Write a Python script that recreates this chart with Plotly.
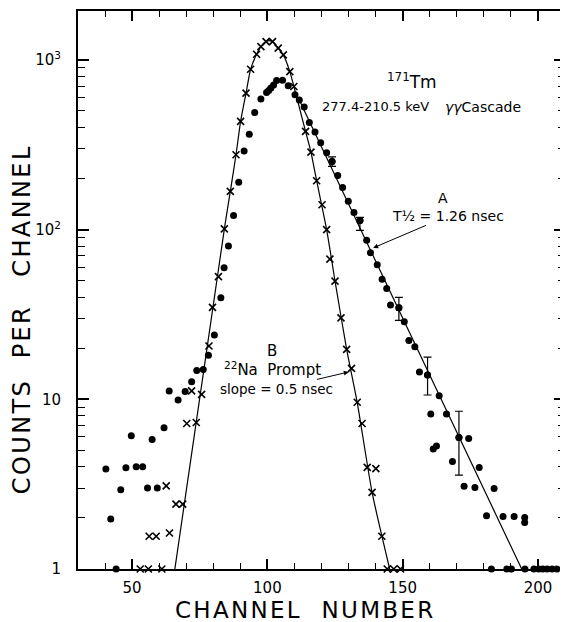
import math
import plotly.graph_objects as go

# ---- data ----
# Series A: 171Tm 277.4-210.5 keV gamma-gamma cascade (dots)
a_channel = [40.3, 42.1, 44.1, 45.8, 47.7, 49.7, 51.5, 53.9, 55.7, 57.4, 59.3, 61.8, 63.7, 67.0,
             69.6, 72.0, 73.9, 76.3, 78.2, 80.4, 82.8, 84.0, 85.6, 87.5, 89.4, 91.4, 93.3, 95.3,
             97.6, 99.7, 100.5, 101.3, 102.3, 103.4, 105.6, 107.7, 110.2, 111.8, 113.6, 115.5,
             117.6, 119.7, 121.9, 123.9, 126.0, 127.8, 129.9, 132.0, 134.2, 136.7, 138.1, 140.6,
             142.4, 144.1, 145.5, 148.6, 150.6, 152.3, 154.5, 156.2, 159.2, 160.4, 161.3, 162.5,
             163.5, 166.2, 168.4, 170.8, 172.7, 174.4, 176.7, 178.3, 181.0, 183.8, 187.1, 191.2,
             195.1, 195.1, 182.8, 188.5, 190.2, 195.2, 198.5, 200.3, 201.8, 203.4, 205.2, 207.0]
a_counts = [3.88, 1.97, 1.0, 2.93, 3.95, 6.1, 4.0, 4.0, 3.0, 5.8, 3.0, 6.8, 11.2, 9.9,
            11.1, 12.7, 14.8, 15.0, 18.2, 23.9, 39.7, 59.5, 80, 121, 190, 290, 365, 490,
            588, 643, 660, 682, 710, 756, 759, 703, 622, 580, 527, 428,
            376, 325, 284, 252, 208, 177, 147, 126, 113, 86.5, 73, 62,
            51, 45, 36, 34.6, 28.6, 22.2, 20.4, 14.5, 13.9, 8.2, 5.1, 5.3,
            10.5, 8.2, 4.3, 5.95, 3.07, 5.87, 3.02, 3.97, 2.06, 2.98, 2.04, 2.04,
            2.01, 1.88, 1, 1, 1, 1, 1, 1, 1, 1, 1, 1]

# error bars on series A
err_channel = [123.9, 134.2, 148.6, 159.2, 170.8]
err_counts = [252, 113, 34.6, 13.9, 5.95]
err_upper = [268, 118, 39.9, 17.7, 8.5]
err_lower = [236, 99, 29.2, 10.6, 3.57]

# Series B: 22Na prompt (crosses)
b_channel = [53.0, 56.0, 61.0, 56.3, 58.9, 62.6, 63.8, 66.2, 68.7, 70.2, 72.0, 73.7, 75.7,
             78.4, 79.7, 81.9, 84.1, 86.3, 88.4, 90.1, 92.1, 93.8, 96.0, 97.6, 99.5, 101.9,
             104.0, 105.9, 108.3, 109.8, 114.1, 116.1, 118.2, 120.2, 121.9, 123.1, 125.0,
             127.2, 129.3, 131.1, 133.2, 135.0, 136.9, 138.7, 140.1, 142.3, 144.3, 146.7, 149.2]
b_counts = [1, 1, 1, 1.56, 1.56, 3.09, 1.63, 2.41, 2.41, 7.2, 11.2, 7.3, 10.7,
            20.6, 34.8, 52.8, 101, 168, 276, 434, 637, 881, 1079, 1197, 1282, 1282,
            1172, 1070, 853, 697, 379, 286, 194, 140, 100, 67, 49.7,
            30.2, 19.7, 15.2, 9.6, 7.2, 3.97, 2.83, 3.9, 1.56, 1, 1, 1]

# fitted curves
fitB_channel = [65.8, 84.1, 86.3, 88.4, 90.1, 92.1, 93.8, 96.0, 97.6, 99.5, 100.7, 101.9,
                104.0, 105.9, 108.3, 109.8, 114.1, 116.1, 118.2, 121.9, 125.0, 129.3,
                133.2, 138.7, 145.2]
fitB_counts = [1, 101, 168, 276, 434, 637, 881, 1079, 1197, 1282, 1300, 1282,
               1172, 1070, 853, 697, 379, 286, 194, 100, 49.7, 19.7, 9.6, 2.83, 1]
fitA_channel = [112.0, 194.0]
fitA_counts = [570, 1]

x_ticks = [50, 100, 150, 200]
x_minor = [30, 40, 60, 70, 80, 90, 110, 120, 130, 140, 160, 170, 180, 190, 210]
y_tickvals = [1, 10, 100, 1000]
y_ticktext = ["1", "10", "10<sup>2</sup>", "10<sup>3</sup>"]
y_minor = [k * 10 ** d for d in range(4) for k in range(2, 10) if k * 10 ** d < 1950]

# ---- layout geometry (page is drawn with an 8px body margin) ----
OFF = 8
W, H = 568 - OFF, 622 - OFF
L, R, T, B = 78 - OFF, 1, 11 - OFF, 53
PW, PH = W - L - R, H - T - B


def px(x):
    return (x - OFF - L) / PW


def py(y):
    return (H - B - (y - OFF)) / PH


FONT = "DejaVu Sans"
HS = "\u200a"  # hair space for letter spacing


def spaced(word):
    return HS.join(word)


fig = go.Figure()

fig.add_trace(go.Scatter(x=fitB_channel, y=fitB_counts, mode="lines",
                         line=dict(color="black", width=1.2, shape="spline", smoothing=0.6),
                         hoverinfo="skip", showlegend=False))
fig.add_trace(go.Scatter(x=fitA_channel, y=fitA_counts, mode="lines",
                         line=dict(color="black", width=1.2),
                         hoverinfo="skip", showlegend=False))
fig.add_trace(go.Scatter(x=a_channel, y=a_counts, mode="markers", cliponaxis=False,
                         marker=dict(symbol="circle", size=7, color="black"),
                         name="A", showlegend=False))
fig.add_trace(go.Scatter(x=err_channel, y=err_counts, mode="markers", cliponaxis=False,
                         marker=dict(symbol="circle", size=7, color="black"),
                         error_y=dict(type="data", symmetric=False,
                                      array=[u - c for u, c in zip(err_upper, err_counts)],
                                      arrayminus=[c - l for c, l in zip(err_counts, err_lower)],
                                      color="black", thickness=1.2, width=4),
                         showlegend=False))
fig.add_trace(go.Scatter(x=b_channel, y=b_counts, mode="markers", cliponaxis=False,
                         marker=dict(symbol="x-thin", size=7, color="black",
                                     line=dict(color="black", width=1.6)),
                         name="B", showlegend=False))

ann = []


def txt(x, y, s, size, xanchor="center", angle=0):
    ann.append(dict(x=px(x), y=py(y), xref="paper", yref="paper", text=s, showarrow=False,
                    xanchor=xanchor, yanchor="middle", textangle=angle,
                    font=dict(family=FONT, size=size, color="black")))


def pointer(tip_ch, tip_val, s, size, ax, ay):
    # annotation positions on a log axis are given as log10 of the value
    ann.append(dict(x=tip_ch, y=math.log10(tip_val), xref="x", yref="y", text=s,
                    showarrow=True, ax=ax, ay=ay, arrowhead=2, arrowsize=1, arrowwidth=1,
                    standoff=0, arrowcolor="black",
                    font=dict(family=FONT, size=size, color="black")))


txt(413, 81, "<sup>171</sup>Tm", 17)
txt(321, 107, "277.4-210.5 keV", 13, "left")
txt(445, 107, "<i>γγ</i>Cascade", 14, "left")
txt(445, 198, "A", 14)
pointer(139.1, 78, "T½ = 1.26 nsec", 14, 75, -32)
txt(273, 351, "B", 15)
txt(223, 369, "<sup>22</sup>Na  Prompt", 15, "left")
pointer(130.1, 14.5, "slope = 0.5 nsec", 13.5, -72, 17)
txt(305, 610, spaced("CHANNEL") + "   " + spaced("NUMBER"), 23)
txt(22, 320, spaced("COUNTS") + "   " + spaced("PER") + "    " + spaced("CHANNEL"), 24,
    angle=-90)

fig.update_layout(
    width=W, height=H, margin=dict(l=L, r=R, t=T, b=B, pad=0),
    paper_bgcolor="white", plot_bgcolor="white", showlegend=False,
    font=dict(family=FONT, size=15, color="black"),
    annotations=ann,
)
fig.update_xaxes(range=[30, 210], tickvals=x_ticks, ticks="inside", ticklen=10, tickwidth=1.5,
                 tickcolor="black", showline=True, linecolor="black", linewidth=2,
                 mirror="ticks", showgrid=False, zeroline=False,
                 tickfont=dict(family=FONT, size=15), ticklabelstandoff=4,
                 minor=dict(tickmode="array", tickvals=x_minor, ticks="inside", ticklen=6,
                            tickwidth=1.2, tickcolor="black", showgrid=False))
fig.update_yaxes(type="log", range=[0, 3.288], tickvals=y_tickvals, ticktext=y_ticktext,
                 ticks="inside", ticklen=11, tickwidth=1.5, tickcolor="black",
                 showline=True, linecolor="black", linewidth=2, mirror="ticks",
                 showgrid=False, zeroline=False,
                 tickfont=dict(family=FONT, size=15), ticklabelstandoff=12,
                 minor=dict(tickmode="array", tickvals=y_minor, ticks="inside", ticklen=7,
                            tickwidth=1.2, tickcolor="black", showgrid=False))

fig.write_html("out.html")
